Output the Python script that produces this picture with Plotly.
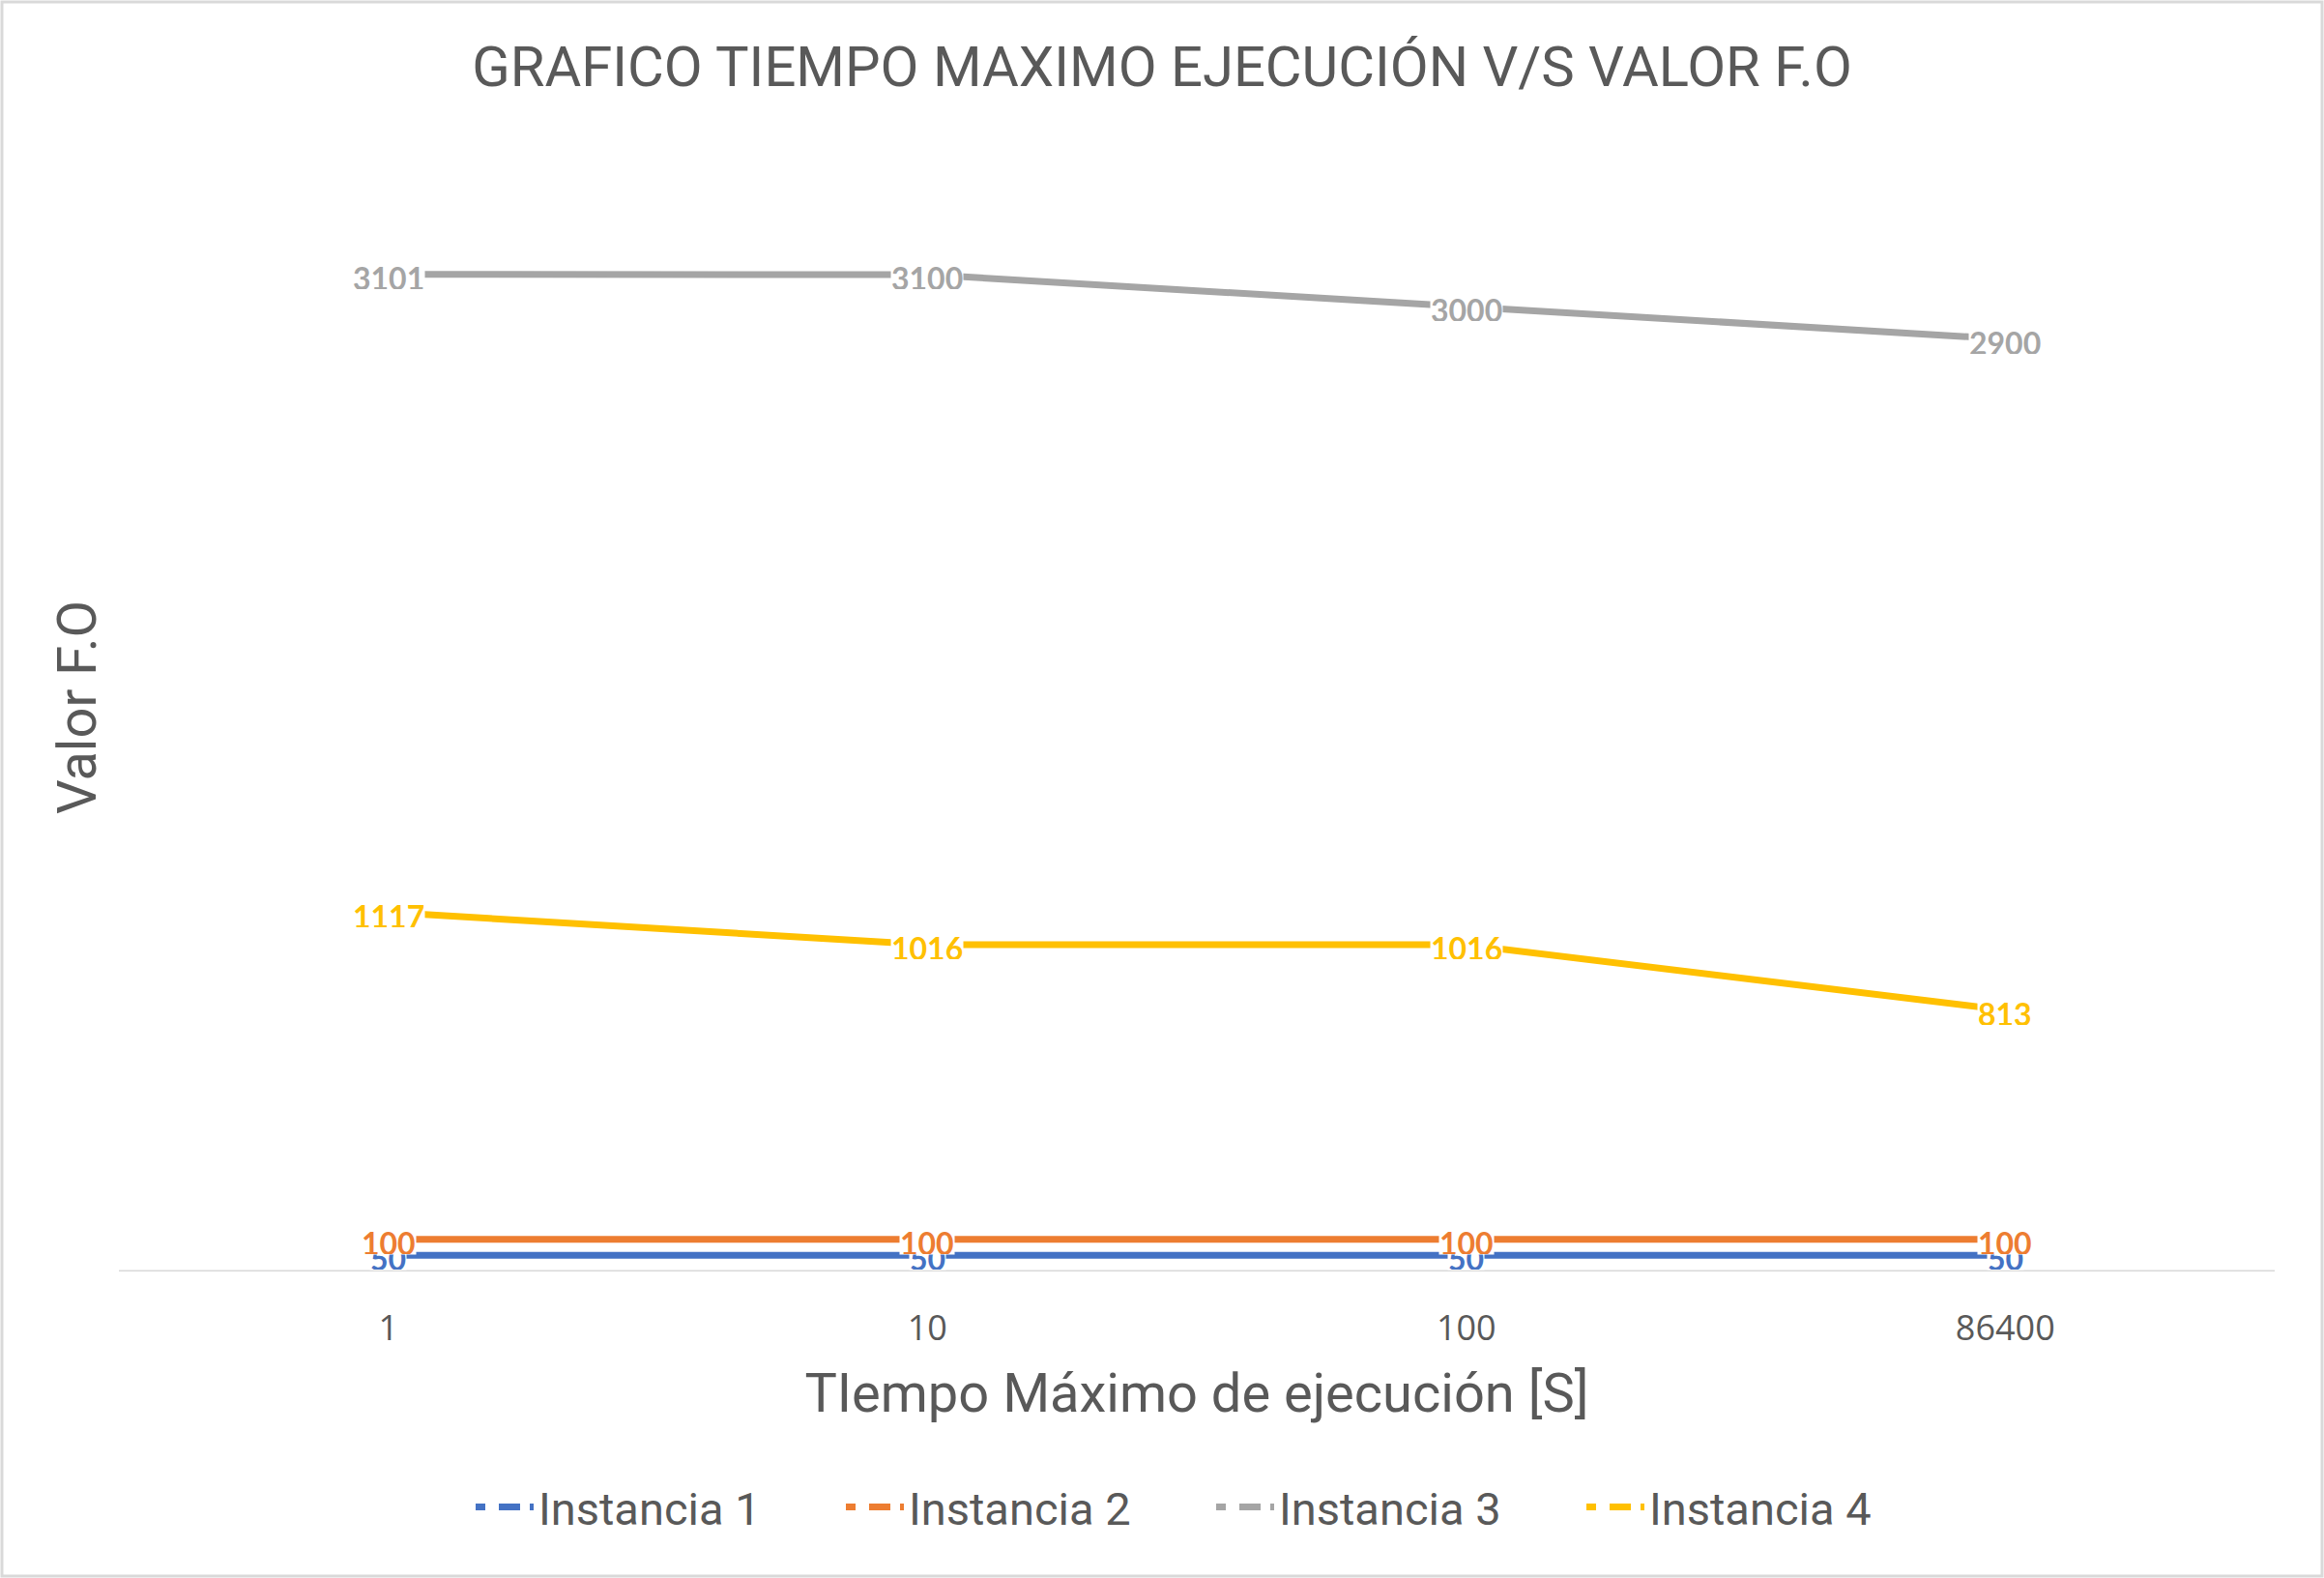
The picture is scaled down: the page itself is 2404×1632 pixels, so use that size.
import plotly.graph_objects as go

categories = ["1", "10", "100", "86400"]
series_names = ["Instancia 1", "Instancia 2", "Instancia 3", "Instancia 4"]
inst1 = [50, 50, 50, 50]
inst2 = [100, 100, 100, 100]
inst3 = [3101, 3100, 3000, 2900]
inst4 = [1117, 1016, 1016, 813]
series_values = [inst1, inst2, inst3, inst4]
colors = ["#4472C4", "#ED7D31", "#A5A5A5", "#FFC000"]

W, H = 2404, 1632
L, R, T, B = 123, 51, 151, 317
pw, ph = W - L - R, H - T - B

fig = go.Figure()
annotations = []
for name, vals, col in zip(series_names, series_values, colors):
    fig.add_trace(go.Scatter(
        x=list(range(len(categories))), y=vals, mode="lines", name=name,
        line=dict(color=col, width=7), showlegend=False, hoverinfo="y"))
    fig.add_trace(go.Scatter(
        x=[None], y=[None], mode="lines", name=name,
        line=dict(color=col, width=7, dash="10px,14px,22px")))
    for i, v in enumerate(vals):
        annotations.append(dict(
            x=i, y=v, xref="x", yref="y", text=f"<b>{v}</b>", showarrow=False,
            font=dict(family="Lato", size=32, color=col), bgcolor="white",
            borderpad=0, height=24, valign="middle", yshift=-3,
            xanchor="center", yanchor="middle"))

# y axis title
annotations.append(dict(
    x=(80 - L) / pw, y=(H - B - 732) / ph, xref="paper", yref="paper",
    text="Valor F.O", textangle=-90, showarrow=False,
    font=dict(family="Roboto", size=56, color="#595959"),
    xanchor="center", yanchor="middle"))

fig.update_layout(
    width=W, height=H,
    margin=dict(l=L, r=R, t=T, b=B),
    paper_bgcolor="white", plot_bgcolor="white",
    title=dict(text="GRAFICO TIEMPO MAXIMO EJECUCIÓN V/S VALOR F.O",
               x=0.5, xanchor="center", y=1 - 69 / H, yanchor="middle",
               font=dict(family="Roboto", size=58, color="#595959")),
    xaxis=dict(range=[-0.5, 3.5], tickmode="array",
               tickvals=list(range(len(categories))), ticktext=categories,
               showgrid=False, zeroline=False, showline=False, ticks="",
               ticklabelstandoff=34,
               tickfont=dict(family="Open Sans", size=36, color="#595959"),
               title=dict(text="TIempo Máximo de ejecución [S]",
                          font=dict(family="Roboto", size=56, color="#595959"),
                          standoff=24)),
    yaxis=dict(range=[0, 3500], showgrid=False, zeroline=False, showline=False,
               showticklabels=False, ticks=""),
    legend=dict(orientation="h", x=0.5 + 15 / pw, xanchor="center",
                y=(H - B - 1559) / ph, yanchor="middle",
                font=dict(family="Roboto", size=47, color="#595959"),
                itemwidth=60, entrywidth=308, bgcolor="rgba(0,0,0,0)"),
    annotations=annotations,
    shapes=[
        dict(type="line", xref="paper", yref="y", x0=0, x1=1, y0=0, y1=0,
             line=dict(color="#D9D9D9", width=3), layer="below"),
        dict(type="rect", xref="paper", yref="paper",
             x0=(2 - L) / pw, x1=(W - 2 - L) / pw,
             y0=(H - B - (H - 2)) / ph, y1=(H - B - 2) / ph,
             line=dict(color="#D9D9D9", width=3), fillcolor="rgba(0,0,0,0)"),
    ],
)

fig.write_html("out.html", config={"displayModeBar": False},
               post_script="document.body.style.margin='0';document.body.style.overflow='hidden';")
